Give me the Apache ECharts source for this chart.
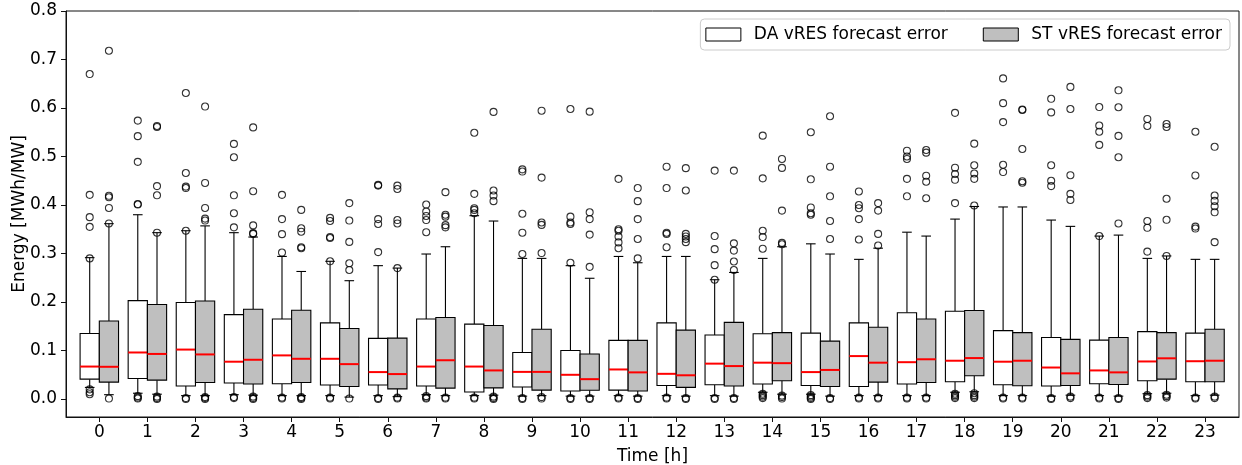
<!DOCTYPE html>
<html>
<head>
<meta charset="utf-8">
<script src="https://cdn.jsdelivr.net/npm/echarts@6/dist/echarts.min.js"></script>
<style>
  html, body { margin: 0; padding: 0; background: #fff; }
  #chart { width: 1242px; height: 465px; }
</style>
</head>
<body>
<div id="chart"></div>
<script>
// ---------- data ----------
const hours = [0,1,2,3,4,5,6,7,8,9,10,11,12,13,14,15,16,17,18,19,20,21,22,23];
const yTicks = [0, 0.1, 0.2, 0.3, 0.4, 0.5, 0.6, 0.7, 0.8];

const daLow    = [0.024,0.012,0.007,0.009,0.007,0.007,0.007,0.009,0.007,0.006,0.006,0.007,0.007,0.007,0.014,0.010,0.007,0.007,0.014,0.007,0.006,0.007,0.011,0.007];
const daQ1     = [0.041,0.0425,0.027,0.033,0.0315,0.029,0.029,0.027,0.0144,0.025,0.0165,0.0185,0.028,0.0295,0.031,0.028,0.026,0.031,0.0356,0.0295,0.027,0.0315,0.0377,0.0356];
const daMedian = [0.067,0.096,0.102,0.077,0.090,0.083,0.0556,0.067,0.067,0.056,0.050,0.061,0.052,0.073,0.075,0.0556,0.0886,0.076,0.079,0.077,0.065,0.059,0.0775,0.078];
const daQ3     = [0.135,0.203,0.199,0.174,0.165,0.157,0.125,0.165,0.1545,0.096,0.100,0.121,0.157,0.132,0.1345,0.136,0.157,0.178,0.181,0.141,0.127,0.1215,0.139,0.136];
const daHigh   = [0.2915,0.380,0.347,0.343,0.294,0.284,0.275,0.299,0.378,0.290,0.275,0.294,0.294,0.246,0.290,0.320,0.288,0.344,0.371,0.396,0.369,0.336,0.290,0.288];
const daOutliers = [
  [0.29,0.355,0.375,0.421,0.670,0.020,0.014,0.010],
  [0.401,0.402,0.489,0.542,0.574,0.006,0.003,0.001],
  [0.347,0.435,0.438,0.466,0.631,0.002,0.0],
  [0.354,0.383,0.420,0.4985,0.526,0.004,0.002],
  [0.302,0.340,0.371,0.421,0.003,0.001],
  [0.284,0.332,0.334,0.367,0.3735,0.003,0.001],
  [0.303,0.361,0.371,0.440,0.4415,0.002,0.0],
  [0.344,0.369,0.3775,0.3865,0.401,0.006,0.003,0.001],
  [0.383,0.390,0.3935,0.423,0.549,0.003,0.001],
  [0.299,0.343,0.382,0.469,0.4735,0.002,0.0],
  [0.281,0.361,0.364,0.376,0.598,0.002,0.0],
  [0.311,0.323,0.335,0.347,0.350,0.454,0.003,0.001],
  [0.313,0.3405,0.343,0.435,0.479,0.003,0.001],
  [0.246,0.276,0.309,0.336,0.471,0.002,0.0],
  [0.310,0.334,0.347,0.455,0.543,0.011,0.008,0.005,0.002],
  [0.380,0.383,0.395,0.453,0.550,0.008,0.005,0.002,0.0],
  [0.329,0.371,0.3935,0.400,0.428,0.003,0.001],
  [0.418,0.454,0.495,0.500,0.512,0.003,0.001],
  [0.404,0.452,0.464,0.477,0.590,0.011,0.008,0.005,0.002],
  [0.468,0.483,0.571,0.610,0.661,0.003,0.001],
  [0.439,0.450,0.482,0.591,0.619,0.002,0.0],
  [0.336,0.524,0.551,0.564,0.602,0.003,0.001],
  [0.304,0.353,0.367,0.563,0.5775,0.008,0.005,0.002],
  [0.3515,0.3555,0.461,0.551,0.003,0.001]
];

const stLow    = [0.009,0.010,0.007,0.008,0.007,0.004,0.005,0.007,0.008,0.007,0.006,0.006,0.006,0.006,0.010,0.006,0.007,0.007,0.015,0.007,0.008,0.006,0.012,0.008];
const stQ1     = [0.035,0.039,0.034,0.031,0.034,0.026,0.021,0.0226,0.023,0.0185,0.018,0.0165,0.024,0.027,0.0377,0.026,0.035,0.034,0.048,0.0274,0.028,0.030,0.041,0.0356];
const stMedian = [0.0665,0.093,0.092,0.081,0.083,0.072,0.0515,0.080,0.059,0.056,0.041,0.055,0.049,0.068,0.074,0.060,0.075,0.082,0.0845,0.079,0.053,0.055,0.084,0.079];
const stQ3     = [0.161,0.195,0.202,0.185,0.183,0.1455,0.1256,0.168,0.1516,0.144,0.093,0.121,0.142,0.158,0.137,0.1195,0.148,0.165,0.1826,0.137,0.123,0.127,0.137,0.144];
const stHigh   = [0.3615,0.343,0.357,0.334,0.263,0.244,0.270,0.314,0.367,0.290,0.249,0.281,0.294,0.261,0.314,0.299,0.311,0.336,0.397,0.396,0.356,0.338,0.295,0.288];
const stOutliers = [
  [0.362,0.394,0.416,0.419,0.718,0.001],
  [0.343,0.420,0.439,0.561,0.563,0.005,0.002,0.0],
  [0.368,0.372,0.394,0.4455,0.603,0.004,0.002,0.0],
  [0.3405,0.342,0.358,0.4285,0.560,0.005,0.002,0.0],
  [0.311,0.313,0.345,0.352,0.390,0.004,0.002,0.0],
  [0.266,0.280,0.324,0.368,0.404,0.001],
  [0.270,0.362,0.369,0.433,0.440,0.003,0.001],
  [0.354,0.3585,0.376,0.380,0.4265,0.003,0.001],
  [0.408,0.4195,0.430,0.592,0.005,0.002,0.0],
  [0.301,0.359,0.364,0.4565,0.5945,0.004,0.001],
  [0.2725,0.339,0.371,0.385,0.5925,0.002,0.0],
  [0.290,0.330,0.371,0.408,0.435,0.002,0.0],
  [0.3235,0.330,0.335,0.3405,0.430,0.476,0.002,0.0],
  [0.266,0.2835,0.306,0.321,0.471,0.002,0.0],
  [0.319,0.322,0.3885,0.4765,0.495,0.007,0.004,0.001],
  [0.330,0.367,0.418,0.479,0.583,0.002,0.0],
  [0.3165,0.3405,0.3885,0.404,0.003,0.001],
  [0.414,0.448,0.4605,0.508,0.5135,0.003,0.001],
  [0.399,0.454,0.465,0.482,0.5265,0.012,0.008,0.005,0.002],
  [0.446,0.449,0.5155,0.596,0.597,0.003,0.001],
  [0.4105,0.423,0.4615,0.598,0.6435,0.005,0.002],
  [0.362,0.4985,0.5425,0.6015,0.6365,0.002,0.0],
  [0.295,0.3695,0.413,0.561,0.567,0.009,0.006,0.003],
  [0.3235,0.385,0.3975,0.4085,0.4195,0.520,0.005,0.002]
];

const seriesNames = ['DA vRES forecast error', 'ST vRES forecast error'];

// ---------- layout / style constants ----------
const FONT = 'DejaVu Sans';
const FS = 17;
const BOX_WIDTH = 0.4;     // in hour units
const BOX_SHIFT = 0.2;     // DA left, ST right
const X_MIN = -0.693, X_MAX = 23.707;
const Y_MIN = -0.037, Y_MAX = 0.8;

function boxData(low, q1, med, q3, high, shift) {
  return hours.map((h, i) => [h + shift, low[i], q1[i], med[i], q3[i], high[i]]);
}
function outlierData(outs, shift) {
  const res = [];
  hours.forEach((h, i) => outs[i].forEach(v => res.push([h + shift, v])));
  return res;
}

function makeRender(fill) {
  return function (params, api) {
    const x = api.value(0);
    const halfW = api.size([BOX_WIDTH, 0])[0] / 2;
    const capHalf = halfW / 2;
    const pLo = api.coord([x, api.value(1)]);
    const pQ1 = api.coord([x, api.value(2)]);
    const pMed = api.coord([x, api.value(3)]);
    const pQ3 = api.coord([x, api.value(4)]);
    const pHi = api.coord([x, api.value(5)]);
    const cx = pQ1[0];
    const ls = { stroke: '#000', lineWidth: 1.1, fill: null };
    return {
      type: 'group',
      children: [
        { type: 'line', shape: { x1: cx, y1: pQ1[1], x2: cx, y2: pLo[1] }, style: ls },
        { type: 'line', shape: { x1: cx, y1: pQ3[1], x2: cx, y2: pHi[1] }, style: ls },
        { type: 'line', shape: { x1: cx - capHalf, y1: pLo[1], x2: cx + capHalf, y2: pLo[1] }, style: ls },
        { type: 'line', shape: { x1: cx - capHalf, y1: pHi[1], x2: cx + capHalf, y2: pHi[1] }, style: ls },
        { type: 'rect', shape: { x: cx - halfW, y: pQ3[1], width: 2 * halfW, height: pQ1[1] - pQ3[1] },
          style: { fill: fill, stroke: '#000', lineWidth: 1.1 } },
        { type: 'line', shape: { x1: cx - halfW, y1: pMed[1], x2: cx + halfW, y2: pMed[1] },
          style: { stroke: '#ff0000', lineWidth: 2 } }
      ]
    };
  };
}

const chart = echarts.init(document.getElementById('chart'), null, { renderer: 'canvas' });

const outlierStyle = { color: 'rgba(0,0,0,0)', borderColor: '#000', borderWidth: 1.1 };

chart.setOption({
  animation: false,
  backgroundColor: '#fff',
  textStyle: { fontFamily: FONT },
  grid: {
    left: 66, top: 11, right: 3, bottom: 48,
    outerBoundsMode: 'none',
    containLabel: false,
    show: true, borderColor: '#111', borderWidth: 1, backgroundColor: 'transparent'
  },
  legend: {
    right: 12, top: 19,
    orient: 'horizontal',
    padding: [7, 8, 7, 5],
    itemGap: 35,
    itemWidth: 35,
    itemHeight: 13,
    backgroundColor: '#fff',
    borderColor: '#cccccc',
    borderWidth: 1,
    borderRadius: 4,
    textStyle: { fontFamily: FONT, fontSize: FS, color: '#000', padding: [0, 0, 0, 8], lineHeight: 17 },
    data: [
      { name: seriesNames[0], icon: 'rect', itemStyle: { color: '#ffffff', borderColor: '#000', borderWidth: 1 } },
      { name: seriesNames[1], icon: 'rect', itemStyle: { color: '#bfbfbf', borderColor: '#000', borderWidth: 1 } }
    ]
  },
  xAxis: {
    type: 'value',
    min: X_MIN, max: X_MAX,
    name: 'Time [h]',
    nameLocation: 'middle',
    nameGap: 31,
    nameMoveOverlap: false,
    nameTextStyle: { fontFamily: FONT, fontSize: FS, color: '#000' },
    axisLine: { show: true, onZero: false, lineStyle: { color: '#111', width: 1 } },
    axisTick: { show: true, length: 5, lineStyle: { color: '#111' }, customValues: hours },
    axisLabel: { fontFamily: FONT, fontSize: FS, color: '#000', margin: 7, customValues: hours,
                 formatter: v => String(Math.round(v)) },
    splitLine: { show: false }
  },
  yAxis: {
    type: 'value',
    min: Y_MIN, max: Y_MAX,
    name: 'Energy [MWh/MW]',
    nameLocation: 'middle',
    nameGap: 38,
    nameMoveOverlap: false,
    nameRotate: 90,
    nameTextStyle: { fontFamily: FONT, fontSize: FS, color: '#000' },
    axisLine: { show: true, onZero: false, lineStyle: { color: '#111', width: 1 } },
    axisTick: { show: true, length: 5, lineStyle: { color: '#111' }, customValues: yTicks },
    axisLabel: { fontFamily: FONT, fontSize: FS, color: '#000', margin: 9, customValues: yTicks,
                 formatter: v => v.toFixed(1) },
    splitLine: { show: false }
  },
  series: [
    {
      name: seriesNames[0], type: 'custom',
      renderItem: makeRender('#ffffff'),
      itemStyle: { color: '#ffffff', borderColor: '#000' },
      encode: { x: 0, y: [1, 2, 3, 4, 5] },
      data: boxData(daLow, daQ1, daMedian, daQ3, daHigh, -BOX_SHIFT),
      z: 2
    },
    {
      name: seriesNames[1], type: 'custom',
      renderItem: makeRender('#bfbfbf'),
      itemStyle: { color: '#bfbfbf', borderColor: '#000' },
      encode: { x: 0, y: [1, 2, 3, 4, 5] },
      data: boxData(stLow, stQ1, stMedian, stQ3, stHigh, BOX_SHIFT),
      z: 2
    },
    {
      name: seriesNames[0] + ' outliers', type: 'scatter',
      symbol: 'circle', symbolSize: 7,
      itemStyle: outlierStyle,
      data: outlierData(daOutliers, -BOX_SHIFT),
      z: 3, silent: true
    },
    {
      name: seriesNames[1] + ' outliers', type: 'scatter',
      symbol: 'circle', symbolSize: 7,
      itemStyle: outlierStyle,
      data: outlierData(stOutliers, BOX_SHIFT),
      z: 3, silent: true
    }
  ]
});
</script>
</body>
</html>
